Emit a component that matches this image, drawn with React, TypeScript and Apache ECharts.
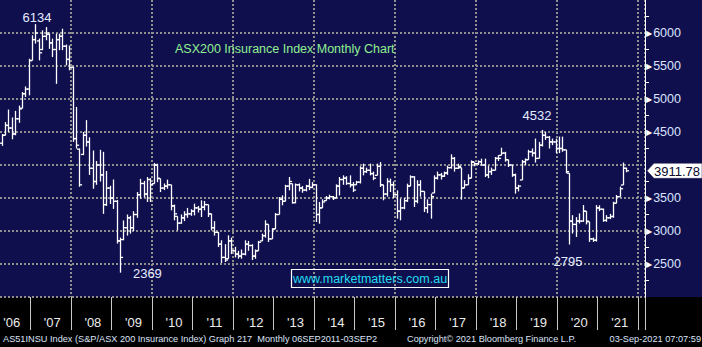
import React, { useEffect, useRef } from "react";
import * as echarts from "echarts";

// ---- categories (monthly bars from Apr 2006) ----
const FIRST_YEAR = 2006;
const FIRST_MONTH = 4;
const MONTH_SLOTS = 191;
const MONTHS: string[] = [];
for (let k = 0; k < MONTH_SLOTS; k++) {
  const m = FIRST_MONTH - 1 + k;
  const y = FIRST_YEAR + Math.floor(m / 12);
  const mm = (m % 12) + 1;
  MONTHS.push(`${y}-${mm < 10 ? "0" + mm : mm}`);
}

// ---- OHLC values ----
const OPEN = [
  4330, 4450, 4600, 4560, 4470, 4700, 4860, 5080, 5150, 5585, 5900, 5880,
  5750, 5950, 5980, 5850, 5750, 5900, 5950, 5800, 5600, 5480, 4400, 4240,
  4160, 4450, 4350, 3950, 3750, 4000, 3850, 3400, 3650, 3500, 3450, 2850,
  2870, 3050, 3200, 3050, 3250, 3550, 3720, 3560, 3780, 3717, 4000, 3793,
  3650, 3680, 3700, 3380, 3222, 3120, 3200, 3250, 3260, 3300, 3350, 3330,
  3360, 3400, 3260, 3050, 2980, 2800, 2600, 2581, 2850, 2700, 2650, 2620,
  2650, 2800, 2780, 2620, 2700, 2850, 2930, 3100, 2880, 3030, 3250, 3480,
  3450, 3680, 3717, 3430, 3700, 3650, 3620, 3680, 3660, 3700, 3250, 3350,
  3460, 3500, 3520, 3500, 3680, 3780, 3800, 3720, 3700, 3700, 3740, 3950,
  3900, 3920, 3870, 3843, 3980, 3700, 3560, 3750, 3700, 3550, 3300, 3350,
  3460, 3680, 3820, 3450, 3700, 3600, 3350, 3400, 3576, 3800, 3850, 3830,
  3880, 3960, 4100, 3950, 3960, 3650, 3700, 3800, 4040, 4020, 4050, 4000,
  3850, 3900, 3920, 4100, 4146, 4180, 4080, 4000, 3850, 3650, 3773, 4050,
  4080, 4200, 4180, 4100, 4300, 4450, 4420, 4350, 4350, 4250, 4250, 4230,
  3875, 3150, 3100, 3150, 3150, 3300, 3140, 2880, 2860, 3350, 3330, 3160,
  3200, 3220, 3420, 3520, 3697, 3950,
];
const HIGH = [
  4470, 4650, 4840, 4720, 4820, 4900, 5105, 5190, 5610, 5965, 6134, 5915,
  6040, 6090, 5990, 5915, 5990, 5990, 6065, 5825, 5810, 5490, 4880, 4250,
  4500, 4680, 4420, 4220, 4060, 4230, 4200, 3910, 3685, 3780, 3470, 2900,
  3160, 3250, 3230, 3300, 3590, 3790, 3760, 3818, 3800, 4030, 4020, 3793,
  3720, 3778, 3700, 3400, 3222, 3250, 3300, 3350, 3330, 3414, 3380, 3465,
  3455, 3400, 3262, 3150, 2985, 2860, 2800, 2935, 2900, 2760, 2700, 2720,
  2859, 2850, 2800, 2720, 2850, 2960, 3162, 3100, 3040, 3273, 3515, 3540,
  3700, 3818, 3717, 3720, 3720, 3680, 3700, 3790, 3740, 3707, 3440, 3480,
  3530, 3550, 3530, 3707, 3818, 3843, 3830, 3843, 3740, 3760, 3980, 4020,
  3960, 4020, 3900, 4020, 4045, 3700, 3800, 3793, 3750, 3616, 3490, 3500,
  3717, 3843, 3830, 3770, 3770, 3600, 3480, 3566, 3843, 3900, 3880, 3900,
  3990, 4162, 4120, 4020, 3960, 3770, 3860, 4070, 4040, 4070, 4096, 4096,
  3990, 3960, 4121, 4150, 4262, 4200, 4080, 4000, 3869, 3700, 4077, 4100,
  4230, 4250, 4400, 4350, 4532, 4500, 4440, 4400, 4400, 4430, 4430, 4230,
  3875, 3240, 3210, 3266, 3393, 3300, 3140, 2900, 3393, 3390, 3340, 3240,
  3260, 3443, 3545, 3672, 4037, 3960,
];
const LOW = [
  4290, 4450, 4500, 4390, 4450, 4640, 4860, 5030, 5055, 5585, 5840, 5585,
  5740, 5890, 5760, 5635, 5230, 5740, 5740, 5510, 5435, 4350, 4250, 3670,
  4150, 4280, 3850, 3640, 3700, 3750, 3260, 3380, 3410, 3335, 2810, 2369,
  2860, 2930, 2960, 3000, 3200, 3490, 3510, 3440, 3440, 3717, 3740, 3590,
  3620, 3640, 3313, 3162, 3010, 3110, 3150, 3200, 3230, 3237, 3280, 3212,
  3313, 3212, 3010, 2930, 2757, 2515, 2530, 2581, 2650, 2600, 2581, 2580,
  2631, 2700, 2560, 2580, 2700, 2850, 2900, 2833, 2880, 3030, 3250, 3389,
  3450, 3616, 3414, 3420, 3600, 3580, 3600, 3620, 3650, 3136, 3111, 3350,
  3460, 3480, 3470, 3500, 3540, 3700, 3700, 3660, 3590, 3700, 3720, 3843,
  3880, 3843, 3770, 3843, 3667, 3465, 3520, 3591, 3500, 3187, 3162, 3330,
  3440, 3680, 3364, 3420, 3520, 3288, 3270, 3187, 3576, 3780, 3780, 3820,
  3850, 3944, 3900, 3940, 3475, 3650, 3700, 3800, 3980, 4000, 3990, 3818,
  3800, 3850, 3919, 4060, 4146, 4050, 3970, 3820, 3566, 3600, 3773, 4000,
  4077, 4128, 4037, 4100, 4280, 4380, 4250, 4300, 4180, 4180, 4200, 3875,
  2795, 2962, 2910, 3114, 3140, 3100, 2835, 2835, 2840, 3300, 3140, 3140,
  3180, 3200, 3420, 3520, 3697, 3890,
];
const CLOSE = [
  4450, 4600, 4560, 4470, 4700, 4850, 5080, 5150, 5580, 5900, 6000, 5700,
  5950, 6000, 5850, 5750, 5900, 5950, 5800, 5600, 5480, 4400, 4300, 3700,
  4450, 4350, 3950, 3750, 4000, 3850, 3400, 3650, 3500, 3450, 2850, 2600,
  3050, 3200, 3050, 3250, 3550, 3720, 3560, 3780, 3700, 4000, 3800, 3650,
  3680, 3700, 3380, 3260, 3120, 3200, 3250, 3260, 3300, 3350, 3330, 3360,
  3400, 3260, 3050, 2980, 2800, 2600, 2560, 2850, 2700, 2650, 2620, 2650,
  2800, 2780, 2620, 2700, 2830, 2930, 3100, 2880, 3030, 3250, 3480, 3450,
  3680, 3750, 3430, 3700, 3650, 3620, 3680, 3660, 3700, 3250, 3350, 3440,
  3500, 3520, 3500, 3680, 3780, 3800, 3720, 3700, 3620, 3740, 3950, 3900,
  3920, 3870, 3800, 3980, 3700, 3560, 3750, 3700, 3550, 3300, 3350, 3460,
  3680, 3820, 3450, 3700, 3600, 3350, 3400, 3520, 3800, 3850, 3830, 3880,
  3960, 4100, 3950, 3980, 3650, 3700, 3800, 4050, 4020, 4050, 4000, 3850,
  3900, 3920, 4100, 4100, 4180, 4080, 4000, 3850, 3650, 3680, 4050, 4080,
  4200, 4180, 4100, 4300, 4450, 4420, 4350, 4350, 4250, 4250, 4230, 3900,
  3150, 3100, 3150, 3150, 3300, 3150, 2880, 2860, 3350, 3330, 3160, 3200,
  3220, 3420, 3520, 3640, 3950, 3911.78,
];

const Y_MIN = 2000;
const Y_MAX = 6500;
const Y_STEP = 500;
const Y_LABEL_MIN = 2500;
const Y_LABEL_MAX = 6000;

const EXTREMES = [
  { month: "2007-02", value: 6134 },
  { month: "2009-03", value: 2369 },
  { month: "2019-08", value: 4532 },
  { month: "2020-04", value: 2795 },
];
const LAST_PRICE = 3911.78;

const TITLE = "ASX200 Insurance Index Monthly Chart";
const WEBSITE = "www.marketmatters.com.au";
const FOOTER_LEFT = "AS51INSU Index (S&P/ASX 200 Insurance Index) Graph 217  Monthly 06SEP2011-03SEP2";
const FOOTER_MID = "Copyright\u00A9 2021 Bloomberg Finance L.P.";
const FOOTER_RIGHT = "03-Sep-2021 07:07:59";

const FONT = '"Liberation Sans", Arial, sans-serif';
const NAVY = "#0f0f4e";

export default function App() {
  const ref = useRef<HTMLDivElement>(null);

  useEffect(() => {
    const el = ref.current!;
    const chart = echarts.init(el, undefined, { renderer: "svg" });
    const data = OPEN.map((o, i) => [i, o, HIGH[i], LOW[i], CLOSE[i]]);

    const offsets: Record<number, number[]> = {
      6134: [1.5, -7],
      2369: [27.5, 0.5],
      4532: [-5, -14.5],
      2795: [-1, 16.5],
    };

    chart.setOption({
      animation: false,
      backgroundColor: "transparent",
      grid: { left: 0, right: 57, top: 0, bottom: 50 },
      xAxis: {
        type: "category",
        data: MONTHS,
        boundaryGap: true,
        axisLine: { show: false },
        axisTick: {
          show: true,
          interval: (_i: number, v: string) => v.endsWith("-01"),
          length: 33,
          lineStyle: { color: "#c8c8c8", width: 1 },
        },
        axisLabel: {
          interval: (_i: number, v: string) => v.endsWith("-07"),
          formatter: (v: string) => "'" + v.slice(2, 4),
          color: "#ececec",
          fontSize: 13,
          fontFamily: FONT,
          margin: 19,
        },
        splitLine: {
          show: true,
          interval: (_i: number, v: string) =>
            v.endsWith("-01") && Number(v.slice(0, 4)) % 2 === 0,
          lineStyle: { color: "#8f8f8f", width: 2, type: [2, 2] },
        },
      },
      yAxis: {
        type: "value",
        position: "right",
        min: Y_MIN,
        max: Y_MAX,
        interval: Y_STEP,
        axisLine: { show: true, lineStyle: { color: "#ffffff", width: 1 } },
        axisTick: { show: false },
        minorTick: {
          show: true,
          splitNumber: 2,
          length: 4,
          lineStyle: { color: "#ffffff", width: 1 },
        },
        axisLabel: {
          margin: 1,
          color: "#dbe3ff",
          fontSize: 12.5,
          fontFamily: FONT,
          formatter: (v: number) =>
            v >= Y_LABEL_MIN && v <= Y_LABEL_MAX && Math.abs(v - LAST_PRICE) > 200
              ? `{t|\u25B6}${v}`
              : "",
          rich: {
            t: { fontSize: 8, color: "#ffffff", fontFamily: "DejaVu Sans", padding: [0, 1, 0, 0] },
          },
        },
        splitLine: {
          show: true,
          showMaxLine: false,
          lineStyle: { color: "#8f8f8f", width: 2, type: [2, 2] },
        },
      },
      series: [
        {
          type: "custom",
          data,
          encode: { x: 0, y: [1, 2, 3, 4] },
          renderItem: (_params: any, api: any) => {
            const idx = api.value(0);
            const o = api.coord([idx, api.value(1)]);
            const h = api.coord([idx, api.value(2)]);
            const l = api.coord([idx, api.value(3)]);
            const c = api.coord([idx, api.value(4)]);
            const x = Math.round(h[0]) + 0.5;
            const t = 2.6;
            const st = { stroke: "#ffffff", lineWidth: 1.3 };
            return {
              type: "group",
              children: [
                { type: "line", shape: { x1: x, y1: h[1], x2: x, y2: l[1] }, style: st },
                { type: "line", shape: { x1: x - t, y1: o[1], x2: x, y2: o[1] }, style: st },
                { type: "line", shape: { x1: x, y1: c[1], x2: x + t, y2: c[1] }, style: st },
              ],
            };
          },
          markPoint: {
            symbol: "rect",
            symbolSize: 1,
            itemStyle: { color: "transparent" },
            data: EXTREMES.map((e) => ({
              coord: [e.month, e.value],
              label: {
                show: true,
                position: "inside",
                formatter: String(e.value),
                color: "#e6ecff",
                fontSize: 13,
                fontFamily: FONT,
                offset: offsets[e.value],
              },
            })),
          },
        },
      ],
    });

    const yLast = chart.convertToPixel({ yAxisIndex: 0 }, LAST_PRICE) as number;
    const W = el.clientWidth;

    chart.setOption({
      graphic: [
        {
          type: "text",
          x: 175,
          y: 49,
          style: {
            text: TITLE,
            fill: "#8ff08f",
            font: `12.5px ${FONT}`,
            align: "left",
            verticalAlign: "middle",
          },
        },
        {
          type: "rect",
          shape: { x: 291.5, y: 269.5, width: 157, height: 18 },
          style: { fill: "transparent", stroke: "#ffffff", lineWidth: 1.2 },
        },
        {
          type: "text",
          x: 370,
          y: 278.5,
          style: {
            text: WEBSITE,
            fill: "#22dcf0",
            font: `12.5px ${FONT}`,
            align: "center",
            verticalAlign: "middle",
          },
        },
        {
          type: "polygon",
          shape: {
            points: [
              [647, yLast],
              [654, yLast - 7.5],
              [W, yLast - 7.5],
              [W, yLast + 7.5],
              [654, yLast + 7.5],
            ],
          },
          style: { fill: "#ffffff", stroke: "#20204a", lineWidth: 0.5 },
        },
        {
          type: "text",
          x: W - 2,
          y: yLast + 0.5,
          style: {
            text: LAST_PRICE.toFixed(2),
            fill: "#0a0a2a",
            font: `13px ${FONT}`,
            align: "right",
            verticalAlign: "middle",
          },
        },
        {
          type: "text",
          x: 3,
          y: 339,
          style: {
            text: FOOTER_LEFT,
            fill: "#dce4f8",
            font: `9.2px ${FONT}`,
            align: "left",
            verticalAlign: "middle",
          },
        },
        {
          type: "text",
          x: 407,
          y: 339,
          style: {
            text: FOOTER_MID,
            fill: "#dce4f8",
            font: `9.2px ${FONT}`,
            align: "left",
            verticalAlign: "middle",
          },
        },
        {
          type: "text",
          x: 701,
          y: 339,
          style: {
            text: FOOTER_RIGHT,
            fill: "#dce4f8",
            font: `9.2px ${FONT}`,
            align: "right",
            verticalAlign: "middle",
          },
        },
      ],
    });

    return () => {
      chart.dispose();
    };
  }, []);

  return (
    <div
      ref={ref}
      style={{
        position: "fixed",
        left: 0,
        top: 0,
        width: 702,
        height: 347,
        background: `linear-gradient(${NAVY} 0px, ${NAVY} 297px, #000000 297px, #000000 347px)`,
      }}
    />
  );
}
